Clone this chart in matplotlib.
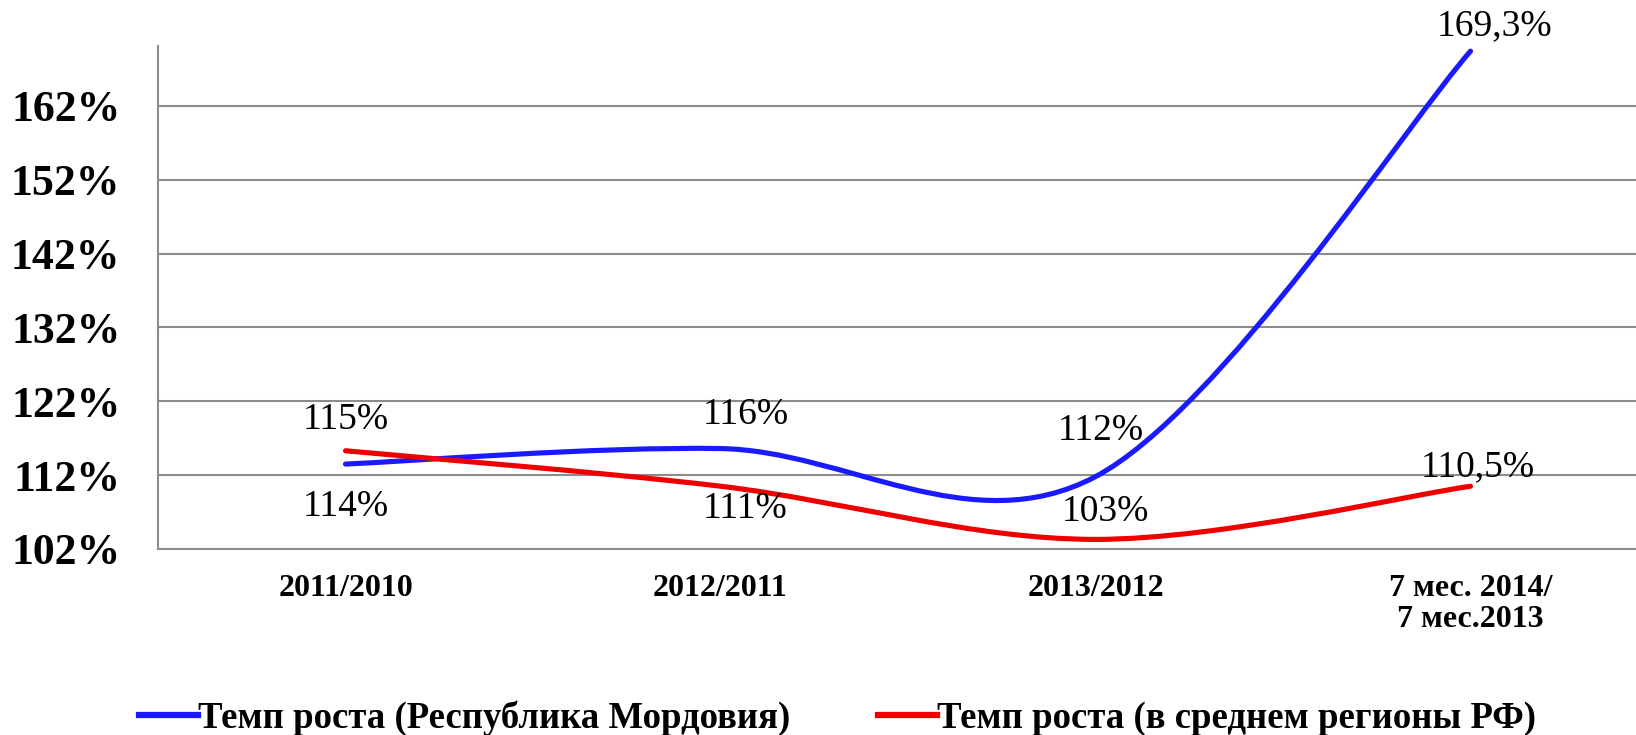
import matplotlib
matplotlib.use("Agg")
import matplotlib.pyplot as plt
from matplotlib.path import Path
from matplotlib.patches import PathPatch
from matplotlib.lines import Line2D

plt.rcParams['font.family'] = ['Liberation Serif', 'DejaVu Serif']

categories = ['2011/2010', '2012/2011', '2013/2012', '7 мес. 2014/\n7 мес.2013']
mordovia = [113.5, 115.6, 111.8, 169.4]
rf_avg = [115.3, 110.5, 103.3, 110.5]
mordovia_labels = ['114%', '116%', '112%', '169,3%']
rf_labels = ['115%', '111%', '103%', '110,5%']
yticks = [102, 112, 122, 132, 142, 152, 162]
series_names = ['Темп роста (Республика Мордовия)', 'Темп роста (в среднем регионы РФ)']

blue = '#1a1aff'
red = '#ee0000'
grid_col = '#8c8c8c'


def smooth_path(xs, ys):
    # excel-like smoothed line: cubic bezier through the points
    n = len(xs)
    verts = [(xs[0], ys[0])]
    codes = [Path.MOVETO]
    for i in range(n - 1):
        i0 = max(i - 1, 0)
        i3 = min(i + 2, n - 1)
        c1 = (xs[i] + (xs[i + 1] - xs[i0]) / 6, ys[i] + (ys[i + 1] - ys[i0]) / 6)
        c2 = (xs[i + 1] - (xs[i3] - xs[i]) / 6, ys[i + 1] - (ys[i3] - ys[i]) / 6)
        verts += [c1, c2, (xs[i + 1], ys[i + 1])]
        codes += [Path.CURVE4] * 3
    return Path(verts, codes)


fig = plt.figure(figsize=(16.36, 7.35), dpi=100)
ax = fig.add_axes([158 / 1636, (735 - 549) / 735, 1500 / 1636, (549 - 46) / 735])

x = list(range(len(categories)))
ax.add_patch(PathPatch(smooth_path(x, mordovia), fill=False, edgecolor=blue, lw=3.7,
                       capstyle='round', zorder=3))
ax.add_patch(PathPatch(smooth_path(x, rf_avg), fill=False, edgecolor=red, lw=3.7,
                       capstyle='round', zorder=3))

ax.set_xlim(-0.5, 3.5)
ax.set_ylim(102, 170.1)
ax.set_yticks(yticks)
ax.set_yticklabels([f'{v}%' for v in yticks], fontsize=31.5, fontweight='bold')
ax.set_xticks(x)
ax.set_xticklabels(categories, fontsize=23, fontweight='bold', linespacing=1.1)
ax.tick_params(axis='y', length=0, pad=27)
ax.tick_params(axis='x', length=0, pad=18)
ax.grid(axis='y', color=grid_col, lw=1.5)
ax.set_axisbelow(True)
for s in ['top', 'right']:
    ax.spines[s].set_visible(False)
ax.spines['left'].set_color(grid_col)
ax.spines['bottom'].set_color(grid_col)
ax.spines['left'].set_linewidth(1.5)
ax.spines['bottom'].set_linewidth(1.5)

# data labels (offsets in points)
blue_off = [(0, -31), (18, 24), (4, 33), (17, 18)]
red_off = [(0, 22), (18, -16), (7, 20), (5, 14)]
for i in x:
    ax.annotate(mordovia_labels[i], (x[i], mordovia[i]), xytext=blue_off[i],
                textcoords='offset points', ha='center', va='center', fontsize=27)
    ax.annotate(rf_labels[i], (x[i], rf_avg[i]), xytext=red_off[i],
                textcoords='offset points', ha='center', va='center', fontsize=27)

handles = [Line2D([], [], color=blue, lw=4.5), Line2D([], [], color=red, lw=4.5)]
fig.legend(handles, series_names, loc='center', bbox_to_anchor=(0.512, 1 - 718 / 735),
           ncol=2, frameon=False, prop={'weight': 'bold', 'size': 26.5},
           handlelength=1.6, handletextpad=0.0, columnspacing=2.4)

fig.savefig('out.png', dpi=100)
